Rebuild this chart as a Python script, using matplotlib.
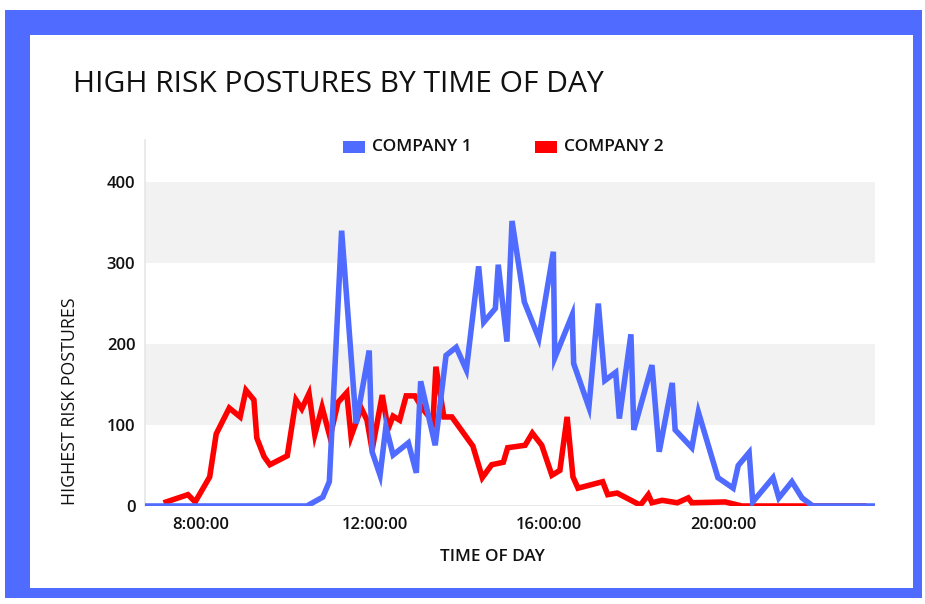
import matplotlib
matplotlib.use("Agg")
import matplotlib.pyplot as plt
from matplotlib.patches import Rectangle

plt.rcParams['font.family'] = ['Open Sans', 'DejaVu Sans']

title = "HIGH RISK POSTURES BY TIME OF DAY"
x_label = "TIME OF DAY"
y_label = "HIGHEST RISK POSTURES"
series_names = ["COMPANY 1", "COMPANY 2"]
x_tick_hours = [8, 12, 16, 20]
x_tick_labels = ["8:00:00", "12:00:00", "16:00:00", "20:00:00"]
y_ticks = [0, 100, 200, 300, 400]

company1_times = ["6:43", "10:26", "10:48", "10:57", "11:14", "11:34", "11:52", "11:56", "12:07", "12:15",
                  "12:25", "12:46", "12:57", "13:03", "13:23", "13:38", "13:52", "14:06", "14:23", "14:30",
                  "14:46", "14:50", "15:02", "15:09", "15:26", "15:46", "16:06", "16:08", "16:32", "16:34",
                  "16:55", "17:08", "17:17", "17:32", "17:37", "17:53", "17:57", "18:22", "18:32", "18:50",
                  "18:54", "19:17", "19:26", "19:53", "20:14", "20:21", "20:36", "20:41", "21:09", "21:17",
                  "21:35", "21:49", "22:04", "23:30"]
company1_values = [0, 0, 11, 30, 340, 102, 192, 67, 38, 98,
                   63, 78, 41, 154, 75, 186, 196, 168, 296, 227,
                   244, 298, 203, 352, 252, 207, 314, 183, 236, 176,
                   122, 250, 155, 165, 108, 212, 94, 174, 67, 152,
                   94, 72, 116, 35, 22, 50, 66, 5, 35, 10,
                   30, 10, 0, 0]

company2_times = ["7:12", "7:42", "7:52", "8:12", "8:21", "8:39", "8:54", "9:02", "9:13", "9:17",
                  "9:27", "9:35", "9:59", "10:11", "10:19", "10:29", "10:37", "10:47", "10:58", "11:09",
                  "11:21", "11:27", "11:41", "11:49", "11:56", "12:10", "12:18", "12:25", "12:34", "12:43",
                  "12:55", "13:05", "13:20", "13:24", "13:35", "13:46", "14:15", "14:28", "14:41", "14:57",
                  "15:03", "15:27", "15:37", "15:50", "16:04", "16:15", "16:25", "16:33", "16:40", "17:14",
                  "17:21", "17:34", "18:06", "18:17", "18:22", "18:36", "18:57", "19:12", "19:17", "20:03",
                  "20:26", "23:14"]
company2_values = [5, 14, 5, 36, 89, 121, 110, 143, 131, 84,
                   61, 51, 62, 131, 120, 139, 88, 122, 85, 128,
                   140, 86, 121, 106, 69, 137, 95, 111, 106, 136,
                   136, 121, 104, 172, 110, 110, 74, 35, 51, 54,
                   72, 75, 90, 75, 38, 44, 110, 36, 22, 30,
                   14, 16, 1, 14, 4, 7, 4, 10, 4, 5,
                   0, 0]


def to_hours(t):
    h, m = t.split(":")
    return int(h) + int(m) / 60.0


c1_x = [to_hours(t) for t in company1_times]
c2_x = [to_hours(t) for t in company2_times]

BLUE = "#506BFF"
RED = "#FF0000"

fig = plt.figure(figsize=(9.25, 6.04), dpi=100)
fig.patch.set_facecolor("white")

# blue frame
frame = Rectangle((5 / 925, 1 - 598 / 604), 917 / 925, 588 / 604,
                  transform=fig.transFigure, facecolor=BLUE, edgecolor="none", zorder=-2)
inner = Rectangle((30 / 925, 1 - 588 / 604), 883 / 925, 553 / 604,
                  transform=fig.transFigure, facecolor="white", edgecolor="none", zorder=-1)
fig.add_artist(frame)
fig.add_artist(inner)

ax = fig.add_axes([145 / 925, 1 - 506 / 604, 730 / 925, 366 / 604])
ax.set_zorder(5)
ax.set_facecolor("none")
ax.set_xlim(6.713, 23.494)
ax.set_ylim(0, 452)

for lo in (100, 300):
    ax.axhspan(lo, lo + 100, color="#F2F2F2", zorder=0, lw=0)
ax.axhline(0, color="#E6E6E6", lw=1.2, zorder=1)

ax.plot(c2_x, company2_values, color=RED, lw=4.0, solid_joinstyle="miter", zorder=3,
        label=series_names[1])
ax.plot(c1_x, company1_values, color=BLUE, lw=4.0, solid_joinstyle="miter", zorder=4,
        label=series_names[0])

for s in ("top", "right", "bottom"):
    ax.spines[s].set_visible(False)
ax.spines["left"].set_color("#E6E6E6")
ax.spines["left"].set_linewidth(1.2)

ax.set_yticks(y_ticks)
ax.set_yticklabels([str(v) for v in y_ticks], fontsize=12, fontweight="semibold")
ax.set_xticks(x_tick_hours)
ax.set_xticklabels(x_tick_labels, fontsize=12, fontweight="semibold")
ax.tick_params(axis="both", length=0, colors="#111111")
ax.tick_params(axis="y", pad=7)
ax.tick_params(axis="x", pad=8)

fig.text(73 / 925, 1 - 85 / 604, title, fontsize=21.6, color="#111111", va="center", ha="left")
fig.text(492 / 925, 1 - 557 / 604, x_label, fontsize=12.3, fontweight="semibold", color="#111111",
         ha="center", va="center")
fig.text(70 / 925, 1 - 401 / 604, y_label, fontsize=12.8, color="#111111", rotation=90,
         ha="center", va="center")

# legend (manual to match placement)
leg_items = [(343, series_names[0], BLUE), (535, series_names[1], RED)]
for x0, name, col in leg_items:
    fig.add_artist(Rectangle((x0 / 925, 1 - 153 / 604), 22 / 925, 12 / 604,
                             transform=fig.transFigure, facecolor=col, edgecolor="none"))
    fig.text((x0 + 29) / 925, 1 - 147 / 604, name, fontsize=12.5, fontweight="semibold",
             color="#111111", ha="left", va="center")

fig.savefig("out.png", dpi=100, facecolor="white")
